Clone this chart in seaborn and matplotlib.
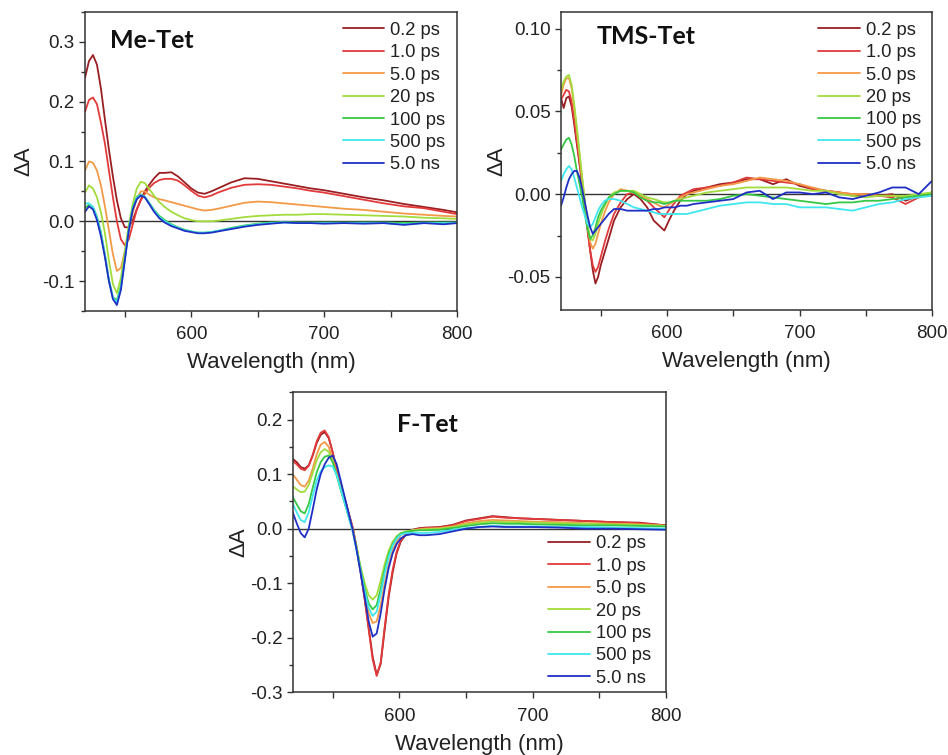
import numpy as np
import pandas as pd
import matplotlib
matplotlib.use("Agg")
import matplotlib.pyplot as plt
import seaborn as sns
from matplotlib.ticker import MultipleLocator, FixedLocator, FormatStrFormatter

# ---------------- data ----------------
delays = ["0.2 ps", "1.0 ps", "5.0 ps", "20 ps", "100 ps", "500 ps", "5.0 ns"]
colors = ["#9a1f22", "#e23a3a", "#f39a48", "#a2dc3c", "#36c845", "#3fe6ef", "#1f2fc4"]

# Me-Tet
wl_me = [520, 523, 526, 529, 532, 535, 538, 541, 544, 547, 550, 553, 556, 559, 562, 565, 568,
         572, 576, 580, 585, 590, 595, 600, 605, 610, 615, 620, 630, 640, 650, 660, 670, 680,
         690, 700, 715, 730, 745, 760, 775, 790, 800]
me_02ps = [0.240, 0.268, 0.278, 0.262, 0.222, 0.170, 0.120, 0.075, 0.035, 0.005, -0.010, -0.010,
           0.002, 0.020, 0.036, 0.050, 0.060, 0.072, 0.081, 0.081, 0.082, 0.075, 0.065, 0.055,
           0.048, 0.046, 0.050, 0.055, 0.065, 0.072, 0.071, 0.067, 0.063, 0.059, 0.055, 0.052,
           0.046, 0.040, 0.035, 0.029, 0.024, 0.019, 0.015]
me_1ps = [0.183, 0.203, 0.207, 0.196, 0.165, 0.130, 0.085, 0.040, 0.000, -0.030, -0.040, -0.030,
          -0.005, 0.020, 0.035, 0.046, 0.055, 0.064, 0.069, 0.071, 0.071, 0.068, 0.060, 0.051,
          0.043, 0.040, 0.043, 0.048, 0.056, 0.061, 0.062, 0.061, 0.058, 0.055, 0.051, 0.048,
          0.042, 0.036, 0.030, 0.025, 0.022, 0.016, 0.012]
me_5ps = [0.085, 0.100, 0.098, 0.085, 0.060, 0.025, -0.015, -0.055, -0.083, -0.078, -0.050, -0.015,
          0.015, 0.038, 0.050, 0.050, 0.045, 0.040, 0.037, 0.035, 0.032, 0.029, 0.026, 0.023,
          0.020, 0.018, 0.019, 0.021, 0.026, 0.031, 0.033, 0.032, 0.030, 0.028, 0.026, 0.024,
          0.021, 0.019, 0.016, 0.013, 0.011, 0.009, 0.008]
me_20ps = [0.048, 0.060, 0.055, 0.040, 0.015, -0.020, -0.065, -0.105, -0.120, -0.095, -0.050, -0.005,
           0.030, 0.055, 0.066, 0.064, 0.055, 0.043, 0.032, 0.024, 0.016, 0.010, 0.005, 0.002,
           0.000, 0.000, 0.000, 0.001, 0.004, 0.007, 0.009, 0.010, 0.011, 0.011, 0.012, 0.012,
           0.011, 0.010, 0.009, 0.008, 0.006, 0.005, 0.004]
me_100ps = [0.022, 0.028, 0.024, 0.008, -0.018, -0.055, -0.098, -0.127, -0.132, -0.108, -0.062, -0.012,
            0.024, 0.041, 0.045, 0.041, 0.032, 0.019, 0.009, 0.002, -0.005, -0.010, -0.014, -0.017,
            -0.019, -0.019, -0.018, -0.016, -0.011, -0.007, -0.004, -0.002, -0.001, -0.002, -0.002, -0.002,
            -0.002, -0.002, -0.002, -0.003, -0.002, -0.002, -0.002]
me_500ps = [0.030, 0.030, 0.024, 0.006, -0.021, -0.057, -0.099, -0.128, -0.135, -0.112, -0.064, -0.013,
            0.022, 0.039, 0.044, 0.041, 0.031, 0.018, 0.007, 0.000, -0.006, -0.011, -0.015, -0.017,
            -0.019, -0.019, -0.018, -0.016, -0.012, -0.008, -0.005, -0.003, -0.002, -0.003, -0.003, -0.003,
            -0.003, -0.003, -0.003, -0.005, -0.003, -0.003, -0.003]
me_5ns = [0.016, 0.025, 0.020, 0.002, -0.025, -0.060, -0.100, -0.130, -0.140, -0.115, -0.065, -0.015,
          0.020, 0.037, 0.043, 0.040, 0.030, 0.016, 0.005, -0.002, -0.008, -0.012, -0.016, -0.018,
          -0.020, -0.020, -0.019, -0.017, -0.013, -0.009, -0.006, -0.004, -0.002, -0.003, -0.003, -0.004,
          -0.003, -0.004, -0.003, -0.006, -0.003, -0.005, -0.003]

# TMS-Tet
wl_tms = [520, 522, 524, 526, 528, 530, 532, 534, 536, 538, 540, 542, 544, 546, 548, 550, 553, 556,
          560, 565, 570, 575, 580, 585, 590, 594, 598, 602, 606, 610, 615, 620, 630, 640, 650, 660,
          670, 680, 690, 700, 710, 720, 730, 740, 750, 760, 770, 780, 790, 800]
tms_02ps = [0.058, 0.052, 0.058, 0.059, 0.053, 0.042, 0.030, 0.018, 0.006, -0.006, -0.020, -0.034,
            -0.046, -0.054, -0.050, -0.043, -0.035, -0.027, -0.016, -0.008, -0.003, 0.000, -0.003,
            -0.008, -0.016, -0.019, -0.022, -0.015, -0.009, -0.004, 0.000, 0.002, 0.004, 0.006, 0.007,
            0.009, 0.009, 0.006, 0.009, 0.005, 0.003, 0.002, 0.001, -0.001, 0.000, -0.001, 0.000,
            -0.004, -0.001, 0.001]
tms_1ps = [0.057, 0.060, 0.063, 0.062, 0.056, 0.045, 0.032, 0.019, 0.006, -0.008, -0.022, -0.034,
           -0.043, -0.047, -0.044, -0.038, -0.029, -0.021, -0.012, -0.005, 0.000, 0.001, -0.001,
           -0.004, -0.008, -0.011, -0.014, -0.009, -0.005, -0.001, 0.001, 0.003, 0.004, 0.005, 0.007,
           0.010, 0.009, 0.008, 0.007, 0.006, 0.003, 0.002, 0.001, 0.000, 0.000, -0.001, -0.002,
           -0.006, -0.002, 0.000]
tms_5ps = [0.060, 0.066, 0.070, 0.070, 0.064, 0.052, 0.038, 0.023, 0.009, -0.005, -0.019, -0.029,
           -0.033, -0.030, -0.024, -0.018, -0.011, -0.005, 0.000, 0.003, 0.002, 0.001, -0.001,
           -0.003, -0.005, -0.007, -0.008, -0.006, -0.004, -0.002, 0.000, 0.001, 0.003, 0.005, 0.006,
           0.008, 0.010, 0.009, 0.008, 0.006, 0.004, 0.002, 0.001, 0.000, 0.000, -0.001, -0.001,
           -0.002, -0.001, 0.001]
tms_20ps = [0.063, 0.068, 0.071, 0.072, 0.066, 0.054, 0.040, 0.025, 0.010, -0.004, -0.018, -0.027,
            -0.028, -0.024, -0.018, -0.013, -0.007, -0.002, 0.001, 0.002, 0.002, 0.002, 0.000,
            -0.002, -0.003, -0.004, -0.005, -0.005, -0.004, -0.003, -0.002, -0.001, 0.001, 0.002,
            0.003, 0.004, 0.004, 0.004, 0.004, 0.003, 0.002, 0.002, 0.000, -0.001, -0.002, -0.001,
            -0.001, -0.001, 0.000, 0.001]
tms_100ps = [0.027, 0.030, 0.033, 0.034, 0.030, 0.023, 0.014, 0.006, -0.002, -0.012, -0.021, -0.027,
             -0.025, -0.020, -0.014, -0.010, -0.006, -0.002, 0.000, 0.002, 0.002, 0.001, -0.002,
             -0.004, -0.005, -0.005, -0.006, -0.005, -0.004, -0.004, -0.004, -0.004, -0.004, -0.003,
             -0.001, 0.000, -0.001, -0.002, -0.003, -0.004, -0.005, -0.006, -0.005, -0.005, -0.004,
             -0.004, -0.003, -0.002, -0.001, 0.000]
tms_500ps = [0.008, 0.012, 0.015, 0.017, 0.015, 0.010, 0.004, -0.002, -0.008, -0.013, -0.018, -0.020,
             -0.018, -0.014, -0.010, -0.007, -0.004, -0.003, -0.003, -0.004, -0.006, -0.008, -0.009,
             -0.010, -0.011, -0.012, -0.012, -0.012, -0.012, -0.012, -0.012, -0.011, -0.009, -0.007,
             -0.006, -0.005, -0.005, -0.006, -0.006, -0.008, -0.008, -0.008, -0.009, -0.010, -0.008,
             -0.006, -0.005, -0.003, -0.002, -0.001]
tms_5ns = [-0.007, -0.002, 0.004, 0.009, 0.012, 0.014, 0.014, 0.010, 0.003, -0.005, -0.013, -0.020,
           -0.024, -0.022, -0.020, -0.018, -0.015, -0.012, -0.009, -0.009, -0.010, -0.010, -0.010,
           -0.010, -0.009, -0.009, -0.008, -0.008, -0.008, -0.007, -0.007, -0.006, -0.005, -0.004,
           -0.003, 0.001, 0.002, -0.003, 0.001, 0.001, 0.000, 0.001, -0.002, -0.003, -0.001, 0.001,
           0.004, 0.004, 0.000, 0.008]

# F-Tet
wl_f = [520, 523, 526, 529, 532, 535, 538, 541, 544, 547, 550, 553, 556, 559, 562, 565, 568, 571,
        574, 577, 580, 583, 586, 589, 592, 595, 598, 601, 605, 610, 615, 620, 630, 640, 650, 660,
        670, 680, 690, 700, 720, 740, 760, 780, 800]
f_02ps = [0.128, 0.122, 0.113, 0.110, 0.116, 0.134, 0.157, 0.172, 0.177, 0.166, 0.140, 0.108, 0.080,
          0.055, 0.028, 0.002, -0.035, -0.080, -0.128, -0.182, -0.235, -0.268, -0.248, -0.185, -0.125,
          -0.080, -0.045, -0.024, -0.010, -0.002, 0.001, 0.002, 0.003, 0.007, 0.015, 0.019, 0.023,
          0.021, 0.019, 0.018, 0.016, 0.014, 0.012, 0.011, 0.006]
f_1ps = [0.124, 0.118, 0.110, 0.107, 0.115, 0.135, 0.160, 0.176, 0.180, 0.168, 0.140, 0.108, 0.080,
         0.055, 0.028, 0.002, -0.035, -0.080, -0.130, -0.185, -0.240, -0.270, -0.245, -0.180, -0.120,
         -0.075, -0.042, -0.022, -0.010, -0.003, 0.000, 0.001, 0.002, 0.006, 0.014, 0.018, 0.022,
         0.020, 0.019, 0.018, 0.016, 0.014, 0.012, 0.010, 0.006]
f_5ps = [0.100, 0.090, 0.080, 0.077, 0.088, 0.110, 0.136, 0.154, 0.159, 0.150, 0.128, 0.100, 0.074,
         0.050, 0.025, 0.000, -0.035, -0.075, -0.115, -0.155, -0.173, -0.170, -0.140, -0.100, -0.065,
         -0.040, -0.022, -0.012, -0.006, -0.003, -0.001, 0.000, 0.001, 0.004, 0.010, 0.014, 0.016,
         0.015, 0.014, 0.013, 0.012, 0.010, 0.009, 0.008, 0.005]
f_20ps = [0.078, 0.072, 0.067, 0.068, 0.080, 0.102, 0.125, 0.140, 0.146, 0.141, 0.123, 0.098, 0.072,
          0.048, 0.023, -0.002, -0.035, -0.070, -0.100, -0.122, -0.130, -0.122, -0.095, -0.065, -0.040,
          -0.024, -0.014, -0.008, -0.005, -0.003, -0.002, -0.001, 0.000, 0.003, 0.008, 0.011, 0.013,
          0.012, 0.012, 0.011, 0.010, 0.009, 0.008, 0.007, 0.005]
f_100ps = [0.058, 0.045, 0.032, 0.028, 0.045, 0.075, 0.103, 0.122, 0.132, 0.134, 0.122, 0.098, 0.072,
           0.047, 0.022, -0.004, -0.038, -0.075, -0.110, -0.137, -0.148, -0.140, -0.110, -0.075, -0.047,
           -0.028, -0.016, -0.009, -0.006, -0.004, -0.003, -0.003, -0.002, 0.001, 0.005, 0.008, 0.010,
           0.009, 0.009, 0.008, 0.007, 0.006, 0.006, 0.005, 0.004]
f_500ps = [0.046, 0.030, 0.016, 0.012, 0.030, 0.060, 0.088, 0.105, 0.113, 0.116, 0.114, 0.098, 0.073,
           0.047, 0.021, -0.005, -0.040, -0.078, -0.115, -0.145, -0.160, -0.152, -0.120, -0.082, -0.052,
           -0.031, -0.018, -0.011, -0.008, -0.008, -0.008, -0.008, -0.006, -0.002, 0.001, 0.003, 0.005,
           0.004, 0.004, 0.004, 0.003, 0.003, 0.002, 0.001, 0.000]
f_5ns = [0.030, 0.010, -0.008, -0.016, 0.000, 0.035, 0.072, 0.100, 0.118, 0.130, 0.134, 0.118, 0.088,
         0.058, 0.028, -0.002, -0.040, -0.082, -0.125, -0.170, -0.198, -0.192, -0.155, -0.110, -0.072,
         -0.045, -0.028, -0.018, -0.012, -0.010, -0.012, -0.012, -0.010, -0.005, 0.000, 0.003, 0.004,
         0.003, 0.003, 0.003, 0.002, 0.000, 0.000, -0.001, -0.002]

# ---------------- style ----------------
sns.set_theme(style="ticks")
plt.rcParams["font.family"] = ["Liberation Sans", "DejaVu Sans"]
plt.rcParams["axes.unicode_minus"] = False

FS_TICK = 13.5
FS_LAB = 16
FS_LEG = 13.2
SPINE = "#333333"


def long_form(wl, series):
    frames = []
    for name, vals in zip(delays, series):
        frames.append(pd.DataFrame({"wl": wl, "dA": vals, "delay": name}))
    return pd.concat(frames, ignore_index=True)


fig = plt.figure(figsize=(9.48, 7.55), dpi=100)


def panel(rect, wl, series, ylim, yticks, yfmt, yminor, title, title_xy,
          leg_xy, ylab_x, xlab_y):
    ax = fig.add_axes(rect)
    df = long_form(wl, series)
    sns.lineplot(data=df, x="wl", y="dA", hue="delay", hue_order=delays,
                 palette=colors, estimator=None, sort=False, lw=1.3,
                 legend=False, ax=ax)
    handles = list(ax.get_lines()[:len(delays)])
    ax.axhline(0, color="#333333", lw=1.0, zorder=1.5)
    ax.set_xlim(520, 800)
    ax.set_ylim(*ylim)
    ax.xaxis.set_major_locator(FixedLocator([600, 700, 800]))
    ax.xaxis.set_minor_locator(MultipleLocator(50))
    ax.yaxis.set_major_locator(FixedLocator(yticks))
    ax.yaxis.set_major_formatter(FormatStrFormatter(yfmt))
    ax.yaxis.set_minor_locator(MultipleLocator(yminor))
    ax.tick_params(axis="x", which="major", direction="out", length=4, width=1,
                   pad=7, labelsize=FS_TICK, color=SPINE, labelcolor="#222222")
    ax.tick_params(axis="x", which="minor", direction="out", length=4, width=1,
                   color=SPINE)
    ax.tick_params(axis="y", which="major", direction="out", length=4, width=1,
                   pad=3.5, labelsize=FS_TICK, color=SPINE, labelcolor="#222222")
    ax.tick_params(axis="y", which="minor", direction="out", length=3, width=1,
                   color=SPINE)
    for s in ax.spines.values():
        s.set_color(SPINE)
        s.set_linewidth(1.1)
        s.set_visible(True)
    ax.set_xlabel("Wavelength (nm)", fontsize=FS_LAB, color="#222222")
    ax.set_ylabel("ΔA", fontsize=FS_LAB, color="#222222")
    ax.xaxis.set_label_coords(0.5, xlab_y)
    ax.yaxis.set_label_coords(ylab_x, 0.5)
    ax.text(title_xy[0], title_xy[1], title, transform=ax.transAxes,
            fontsize=18, fontweight="bold", family=["Lato", "DejaVu Sans"],
            ha="left", va="center", color="#111111")
    leg = ax.legend(handles, delays, loc="upper left", bbox_to_anchor=leg_xy,
                    frameon=False, fontsize=FS_LEG, handlelength=2.25,
                    handletextpad=0.33, labelspacing=0.295, borderpad=0,
                    borderaxespad=0)
    for t in leg.get_texts():
        t.set_color("#222222")
    return ax


panel([85 / 948, 1 - 311 / 755, 372 / 948, 299 / 755], wl_me,
      [me_02ps, me_1ps, me_5ps, me_20ps, me_100ps, me_500ps, me_5ns],
      (-0.15, 0.35), [-0.1, 0.0, 0.1, 0.2, 0.3], "%.1f", 0.05,
      "Me-Tet", (0.067, 0.904), (0.693, 0.967), -0.137, -0.137)

panel([561 / 948, 1 - 310 / 755, 371 / 948, 298 / 755], wl_tms,
      [tms_02ps, tms_1ps, tms_5ps, tms_20ps, tms_100ps, tms_500ps, tms_5ns],
      (-0.07, 0.11), [-0.05, 0.0, 0.05, 0.10], "%.2f", 0.025,
      "TMS-Tet", (0.096, 0.917), (0.6935, 0.967), -0.144, -0.137)

panel([292.7 / 948, 1 - 692.3 / 755, 373.3 / 948, 300 / 755], wl_f,
      [f_02ps, f_1ps, f_5ps, f_20ps, f_100ps, f_500ps, f_5ns],
      (-0.3, 0.25), [-0.3, -0.2, -0.1, 0.0, 0.1, 0.2], "%.1f", 0.05,
      "F-Tet", (0.279, 0.891), (0.685, 0.523), -0.116, -0.139)

fig.savefig("out.png", dpi=100, facecolor="white")
